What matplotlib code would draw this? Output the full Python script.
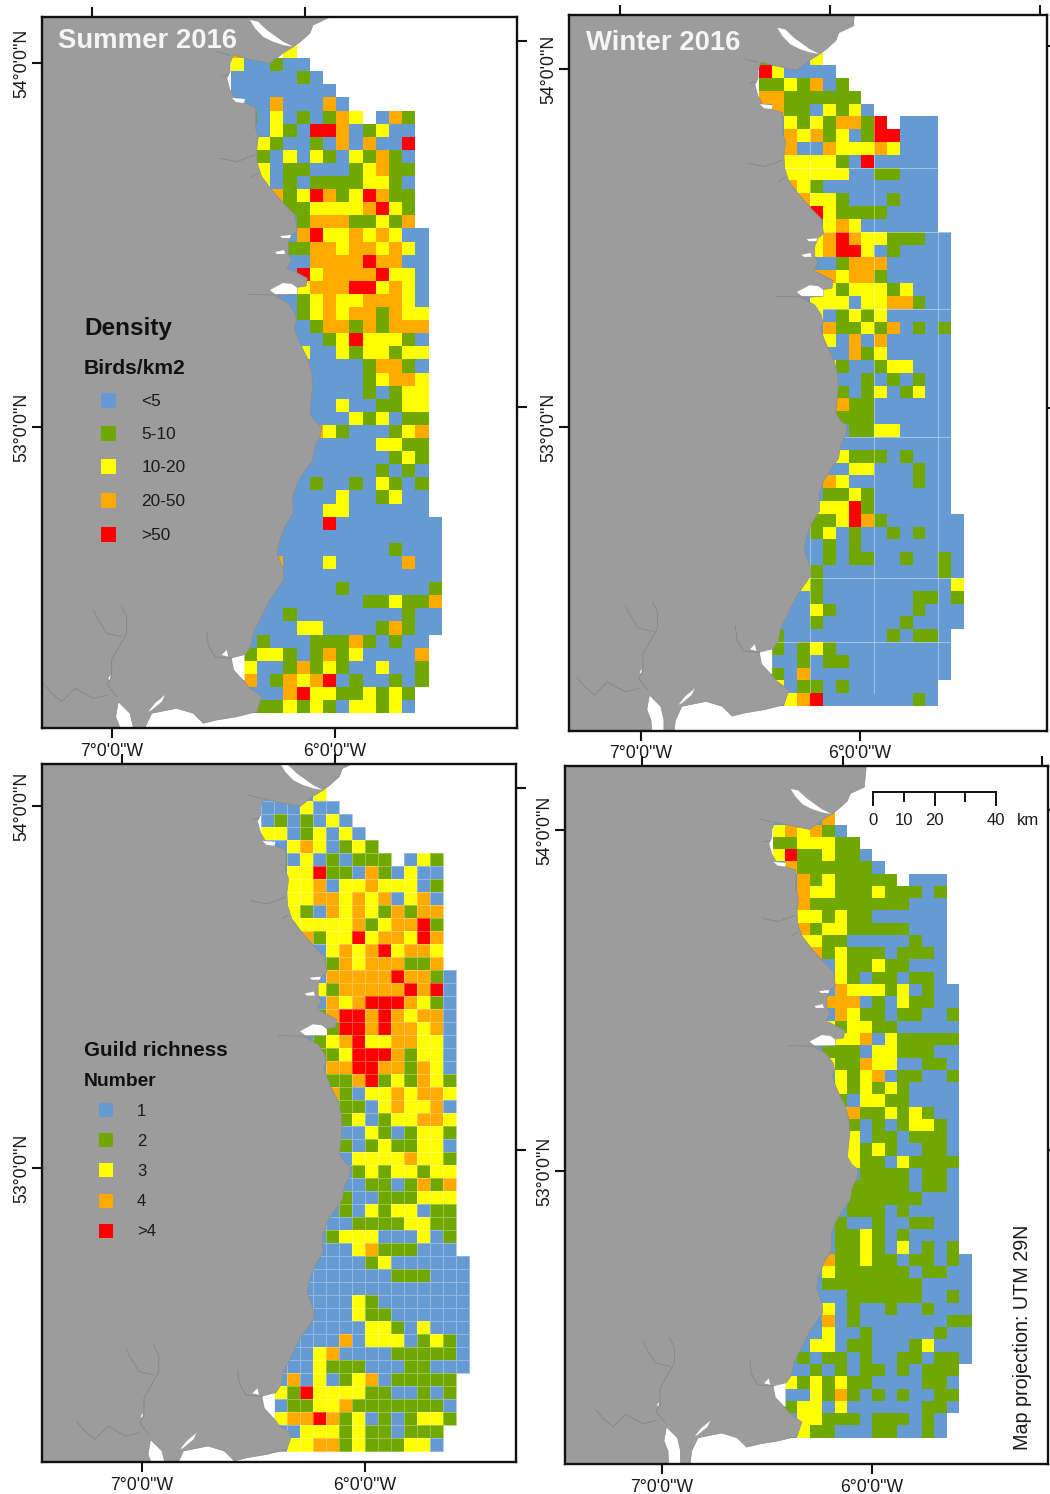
import numpy as np
import matplotlib
matplotlib.use("Agg")
import matplotlib.pyplot as plt
from matplotlib.colors import ListedColormap
from matplotlib.patches import Rectangle
from matplotlib.lines import Line2D

plt.rcParams['font.family'] = ['Liberation Sans', 'DejaVu Sans']

W, H = 1050, 1494
CLASS_CODES = "bgyor"
CLASS_COLOURS = ['#659ad2', '#70a800', '#ffff00', '#ffaa00', '#ff0000']
LAND = '#9c9c9c'

# ---- grid cells: b,g,y,o,r = class 1..5; '.' = no survey cell (spaces only group columns)
summer_2016 = [
"o... y... .... ....", "ybbg bb.. .... ....", "bbbb bgb. .... ....", "bbbb bbbb .... ....",
"bbbo bbbo b... ....", ".gby bgbg oy.b og..", ".bby gbrr obgy bb..", "..yg bbgb obob br..",
"..gb ybyg bygo gb..", "..yb ggbb bgyo gg..", "..yb gbgg ggyy gb..", "...o gyro gyro gg..",
".... ggyy yyor yg..", ".... bgoo oggy go..", ".... bory yoyo ybb.", ".... ggoo yooy oyb.",
".... bboo ooro obb.", ".... .ryo ooor yyb.", ".... .yoo orry oyb.", ".... bgyo yyoo oyb.",
".... bgyo yoog oyy.", ".... bbgo ogog ooo.", ".... bbbg yryy ygb.", ".... .ybb ygyy gyy.",
".... .bbb bbgo ogb.", ".... .bbb bbgy ooy.", ".... .bbb bbgb gyy.", ".... .bbb ybbg gyy.",
".... .bbb bygy bgg.", ".... ..oy gbbb gyo.", ".... ..bb bbby ygg.", ".... ..bb bbbb gyg.",
".... .bbb bbbg bgb.", ".... .bgb bgby gbg.", ".... bbbb ybbg ybb.", ".... bbby ybbb bbb.",
".... bbbr bbbb bbbb", "...b bbbb bbbb bbbb", "...b bbbb bbbb gbbb", "...o bbby bbbb bobb",
"...b bbbb bbbb bbbb", "...b bbbb gbbb bbbg", "..bb bbbb bbgg yggo", "..bb gbbb bbbb bgbb",
".bbb byyb bbbg ogbb", ".bgb bbgg gogb gbb.", ".gyy gbgo gybb bbo.", ".ybb gogy gbby bbg.",
".obg oyor bgbb gbg.", "..bb oryy ggyg yg..", "..gg ygyg byyg yb..",
]
winter_2016 = [
"g..b y... .... ....", "rybb bb.. .... ....", "ggyg obg. .... ....", "oogg gggg .... ....",
".ogg bygy b... ....", "..yg ygoo gr.b bb..", "..oy ogyb grrb bb..", "..ob boyy yoyb bb..",
"..yy yygb rbbb bb..", "..yy yyyb bggb bb..", "..oy gbbb bbbb bb..", "...o yygb bbgb bb..",
"...b rygg ggbb bb..", ".... .yoy bbbb bb..", ".... yoro yygg gbb.", ".... yorr ybgb bbb.",
".... bbgo oobb bbb.", ".... ooyo ogbb bbb.", ".... .ygy yygy bbb.", "...b yyyb yyoo gbb.",
"...r ybgy gybb bbb.", ".... .ogg ygob gbg.", ".... .ybo bobb bbb.", ".... .bbo gybb bbb.",
".... .ygb bgyy bbb.", ".... ..bb gbgb gbb.", ".... ..gb gybg ybb.", ".... ..og gbbb bbb.",
".... ..gg gbbb bbb.", ".... ..bg gyyb bbb.", ".... ..bb bbbb bbb.", ".... ..yg ggbg bbb.",
".... ..by ybbb gbb.", ".... .oyb bbbb gbb.", ".... .ggy gbbb bbb.", ".... yyyr gbbb bbb.",
".... ggyr ogbb bbbb", ".... gybg bbgb gbbb", ".... bgbg bbbb bbbb", ".... bgbg gbbg bbgb",
".... gbbb bbbb bbgb", "...y gbbb bbbb bbby", "...b gbbb bbbb ggbg", "...b ygbb bbbb gbbb",
"..bb gbbb bbbg bbbb", ".gbb bbbb bbgb ggb.", ".gbg ygbb bbbb bbb.", ".bbg bggb bbbb bbb.",
".gbo bbbb bbbb bbb.", ".ybg gbgb bbbb bb..", "..yo rbbb bbbb gb..",
]
guild_summer = [
"...b y... .... ....", "bbby bb.. .... ....", "bgbg byb. .... ....", "yybg ybyb .... ....",
".byo ybgy g... ....", ".gby bgbg gg.b yg..", "..yy rggb ogby bb..", "..yy obyy oyyy bg..",
"..yy ooyo yoby ob..", "..yg boyo ygog oo..", "..yy yyyo gyoo rg..", "...o gyyr yooy ro..",
"...b byoy oryo oy..", ".... bgoy ooog go..", ".... booo ooro ogb.", ".... ygoo ooor orb.",
".... boyo rrro ygb.", ".... gorr oroy oob.", ".... .grr oroo yob.", "...b gyor yyoo yyb.",
".... ggyr rrog yyb.", ".... .oor roog oyb.", ".... .ggo rgyg oyg.", ".... .ogb yyoy ooy.",
".... .bgg byoy yob.", ".... ..gy bgyy ooy.", ".... ..bb ygbg yyg.", ".... ..gb gygg yyb.",
".... ..by yyyo yyg.", ".... ...g ygyy gyy.", ".... ..bb ggbg ogo.", ".... ..gb bggg yyy.",
".... ..gb ygyy bgg.", ".... .bbg gggy ygg.", ".... .gyy ybbb ybg.", ".... .bby oggg bbb.",
".... bbbb gybb bbbb", "...b bbbb bbgg gbbb", "...b bbbb bbbb bbbb", "...b bbby gbbb bbbb",
"...b bbby ggbb bbbb", "...b bbbb yygb ybbb", "...b bbob yyyb gygb", "..bb yobb bbgg gggb",
"..bb yggg bbbg gbbb", ".bob ybgy obgg ggg.", ".ygr yyyy ggbb gbg.", ".bgg yyog gggg ggb.",
".yoo rogy bgbg yyg.", ".bby yygy ggbg gg..", "..yy oogy gggy yb..",
]
guild_winter = [
"...b o... .... ....", "yoyo gb.. .... ....", "ggyy ygg. .... ....", "yrgg yggb .... ....",
".ogg gggg b... ....", "..og yggg gg.b bb..", "..oy yggg yggg bg..", "..og gggg gggb bb..",
"..yy gygg bbbb bb..", "..og yygg gggb bb..", "..yy ggbb bbbg bb..", "...o gygg gbgg gb..",
".... bygg yggb bb..", ".... .ygb ggbg gb..", ".... boyy ygyb gbb.", ".... ooob gbyg gbb.",
".... boyg gbgg bbg.", ".... ygyy ggbb bbb.", ".... .yyo bygg ggg.", "...b gggb yygg gbb.",
".... yggo yybb ggb.", ".... .ygy obgg bbg.", ".... .ygy gygb bbb.", ".... .gby yggb bbb.",
".... .yog gygy gbb.", ".... ..gb gbgy ygb.", ".... ..yb ggbg ggb.", ".... ..yg ygbb ggb.",
".... ..yg gbyg ggg.", ".... ...g gggb ggb.", ".... ..gg gggb ggb.", ".... ..gg gggg bbb.",
".... ..gg gbgb bbb.", ".... .gbb gbbg gbb.", ".... .ggy gbgb bbb.", ".... .ggy gbyb gbg.",
".... oggy ggbg gbgb", ".... yggg gggb ggbb", ".... gggg gggg bbbb", ".... bbgg gggg bbgb",
".... ybgb bgbb gbbb", "...b obgb bbbb bbgg", "...b ybbg bbbb bgbb", "..by ybgg bbbg ybbb",
"..gb ggbg bbgg bggb", ".bbg bgbg gbgb ggg.", ".ygy gygg bbbb ggb.", ".bby gogb gbgb bgg.",
".gyy bybb bbbb ggb.", "..yy gggb gggb gb..", "..yg gbbb ggbb gb..",
]

# ---- geography, in shared map units
coast = [(-60,-40),(350,-40),(330,-4),(328,18),(313,25),(310,33),(300,42),(293,47),(283.3,53),(270,63.3),
 (245,58.3),(233.3,55),(230,63.3),(230,71.7),(226.7,78.3),(230,90),(235,98.3),(245,103.3),(255,106.7),
 (256,118.3),(255,126.7),(258.3,136.7),(256.7,150),(257.3,163.3),(261.7,176.7),(271.7,190),(285,205),
 (295,215),(297.3,230),(291.7,235),(288.3,243.3),(288.3,253.3),(291.7,260),(286.7,268.3),(291.7,270),
 (307.3,278.3),(306,286),(297.3,287.3),(297.3,294),(275,296),(288.3,303.3),(295,313.3),(296.7,321.7),
 (294,326.7),(297.3,336.7),(301.7,346.7),(308.3,360),(311.7,373.3),(312.7,386.7),(310,413.3),(315,421.7),
 (321.7,426.7),(320,436.7),(315,446.7),(312.7,460),(303.3,473.3),(297.3,483.3),(292.7,496.7),(293.3,513.3),
 (285,526.7),(280,540),(277.3,553.3),(283.3,570),(284,580),(270,600),(260,620),(253.3,633.3),(250.7,646.7),
 (245,655),(231.7,658.3),(234,670),(243.3,680),(248.3,686.7),(261.7,696.7),(256.7,711.7),(236.7,716.7),
 (216.7,720),(203.3,723.3),(193.3,713.3),(176.7,708.3),(151.7,713.3),(145,727.7),(140,770),(133,770),
 (133.3,727),(130,713.3),(118.3,701.7),(115.7,716.7),(120,727.7),(122,770),(-60,770)]
inlets = [
 [(250,20),(258,21.7),(266.7,30),(283,41.7),(293,46.7),(283,45),(273,41.7),(263,36.7),(255,28.3)],
 [(270,290),(283,283),(292,284),(297.3,288),(297.3,294),(275,294)],
 [(232,98),(245,99),(244,103),(236,102)],
 [(148.3,711.7),(155,703.3),(165,695),(161.7,701.7),(151.7,710)],
 [(221.7,655),(226.7,650),(228.3,656.7)],
 [(108.3,678.3),(110.7,675),(110,680.7)],
 [(275,252),(284,250),(285,254),(277,254)],
 [(280,236),(291,235),(290,238),(282,238)],
 [(244.5,655),(231.7,658.3),(234,670),(243.3,680),(244.5,680)],
]
rivers = [
 [(121.7,606.7),(126.7,616.7),(126.7,633.3),(118.3,648.3),(111.7,660),(111.7,676.7),(107.3,685),(116.7,696.7)],
 [(93.3,610),(98.3,620),(106.7,633.3),(121.7,636.7)],
 [(43.3,683.3),(51.7,693.3),(61.7,701.7),(75,688.3),(93.3,698.3),(107.3,695)],
 [(206.7,631.7),(208.3,645),(215,656.7),(231.7,658.3)],
 [(220,158.3),(236.7,161.7),(255,155)],
 [(251.7,176.7),(258,173)],
 [(248.3,294.3),(275,295)],
 [(216.7,51.7),(230,55.3)],
 [(221.7,76.7),(228,75)],
]

PANELS = [
 dict(rows=summer_2016, box=(42,517,17,727.7), o=(230.7,45), p=(13.19,13.1),
      bottom=[112,335], top=[92,305], left=[63,427], right=[41,407], lines=None),
 dict(rows=winter_2016, box=(569,1047,15,730.5), o=(758.7,52.3), p=(12.83,12.82),
      bottom=[641,860], top=[620,830,1040], left=[69,427], right=[46,408], lines='coarse'),
 dict(rows=guild_summer, box=(42,516,764,1462), o=(261.3,788.3), p=(13.0,12.99),
      bottom=[142,365], top=[122,335], left=[806,1168], right=[788,1150], lines='fine'),
 dict(rows=guild_winter, box=(565,1048,766,1464), o=(772.5,812.3), p=(12.45,12.26),
      bottom=[662,872], top=[642,843,1042], left=[830,1171], right=[810,1150], lines=None),
]
LON_LABELS = ['7°0\'0"W', '6°0\'0"W']
LAT_LABELS = ['54°0\'0"N', '53°0\'0"N']
MX0, MY0, MPX, MPY = 230.7, 45.0, 13.19, 13.1

fig = plt.figure(figsize=(W/100, H/100), dpi=100, facecolor='white')
cmap = ListedColormap(CLASS_COLOURS)

def fx(x): return x/W
def fy(y): return 1-y/H

def decode(rows):
    out = []
    for r in rows:
        codes = [CLASS_CODES.find(ch) for ch in r.replace(' ', '')]
        # the low-density class runs on to the shore, under the land polygon
        first = next(i for i, v in enumerate(codes) if v >= 0)
        codes[:first] = [0]*first
        out.append(codes)
    return np.ma.masked_less(np.array(out), 0)

for P in PANELS:
    L, R, T_, B = P['box']
    ax = fig.add_axes([fx(L), fy(B), (R-L)/W, (B-T_)/H])
    def to_mx(px, P=P): return MX0 + (np.asarray(px, float)-P['o'][0])/P['p'][0]*MPX
    def to_my(py, P=P): return MY0 + (np.asarray(py, float)-P['o'][1])/P['p'][1]*MPY
    ax.set_xlim(to_mx(L), to_mx(R))
    ax.set_ylim(to_my(B), to_my(T_))
    grid = decode(P['rows'])
    xe = MX0 + np.arange(grid.shape[1]+1)*MPX
    ye = MY0 + np.arange(grid.shape[0]+1)*MPY
    if P['lines'] == 'fine':
        ax.pcolormesh(xe, ye, grid, cmap=cmap, vmin=0, vmax=4, zorder=1,
                      edgecolors=(1,1,1,0.3), linewidth=0.4)
    else:
        ax.pcolormesh(xe, ye, grid, cmap=cmap, vmin=0, vmax=4, zorder=1, linewidth=0, antialiased=False)
    if P['lines'] == 'coarse':
        for c in (4, 9, 14):
            ax.plot([xe[c]]*2, [ye[5], ye[50]], color='white', alpha=0.45, lw=0.6, zorder=2)
        for r in (9, 14, 20, 30, 41, 46):
            first = np.flatnonzero(~grid.mask[r])
            ax.plot([xe[first[0]], xe[first[-1]+1]], [ye[r]]*2, color='white', alpha=0.5, lw=0.6, zorder=2)
    cx, cy = zip(*coast)
    ax.fill(cx, cy, facecolor=LAND, edgecolor='#8c8c8c', lw=0.5, zorder=3)
    for poly in inlets:
        ix, iy = zip(*poly)
        ax.fill(ix, iy, facecolor='white', edgecolor='none', zorder=4)
    for riv in rivers:
        rx, ry = zip(*riv)
        ax.plot(rx, ry, color='#858585', lw=0.6, zorder=5)

    for s in ax.spines.values():
        s.set_linewidth(1.7); s.set_color('#111111'); s.set_zorder(10)
    tk = dict(length=7.2, width=1.5, color='#111111')
    ax.set_xticks(to_mx(P['bottom'])); ax.set_xticklabels(LON_LABELS, fontsize=12.7, color='#1a1a1a')
    ax.set_yticks(to_my(P['left']))
    ax.set_yticklabels(LAT_LABELS, fontsize=12.7, rotation=90, va='center', color='#1a1a1a')
    ax.tick_params(axis='x', pad=3.6, **tk)
    ax.tick_params(axis='y', pad=1.5, **tk)
    st = ax.secondary_xaxis('top'); st.set_xticks(to_mx(P['top'])); st.set_xticklabels([])
    st.tick_params(**tk); st.spines['top'].set_visible(False)
    sr = ax.secondary_yaxis('right'); sr.set_yticks(to_my(P['right'])); sr.set_yticklabels([])
    sr.tick_params(**tk); sr.spines['right'].set_visible(False)

def T(x, y, s, **kw):
    kw.setdefault('va', 'center'); kw.setdefault('ha', 'left'); kw.setdefault('color', '#1a1a1a')
    fig.text(fx(x), fy(y), s, zorder=20, **kw)

T(58, 41.5, 'Summer 2016', fontsize=19.8, fontweight='bold', color='#f5f5f5')
T(586, 42.5, 'Winter 2016', fontsize=19.8, fontweight='bold', color='#f5f5f5')

def legend(x_patch, x_text, size, ys, labels, fs):
    for y, col, lab in zip(ys, CLASS_COLOURS, labels):
        fig.add_artist(Rectangle((fx(x_patch), fy(y+size/2)), size/W, size/H, transform=fig.transFigure,
                                 facecolor=col, edgecolor='none', zorder=20))
        T(x_text, y+1, lab, fontsize=fs)

T(84, 328.5, 'Density', fontsize=17.5, fontweight='bold', color='#111111')
T(84, 368.5, 'Birds/km2', fontsize=15.2, fontweight='bold', color='#111111')
legend(100.7, 141.5, 15, [400, 433.5, 467, 500.5, 534], ['<5', '5-10', '10-20', '20-50', '>50'], 12.4)
T(84, 1051, 'Guild richness', fontsize=14.9, fontweight='bold', color='#111111')
T(84, 1081.5, 'Number', fontsize=13.9, fontweight='bold', color='#111111')
legend(99, 137, 14, [1110, 1140, 1170, 1201, 1231], ['1', '2', '3', '4', '>4'], 12)

# scale bar
SCALE_KM = [0, 10, 20, 30, 40]
SCALE_LABELS = {0: '0', 10: '10', 20: '20', 40: '40'}
bar_x0, bar_px_per_km, bar_y = 873.3, 3.07, 792.3
fig.add_artist(Line2D([fx(bar_x0), fx(bar_x0+40*bar_px_per_km)], [fy(bar_y)]*2, color='#111111', lw=1.4, zorder=20))
for km in SCALE_KM:
    xk = bar_x0+km*bar_px_per_km
    ln = 13 if km % 20 == 0 else 9
    fig.add_artist(Line2D([fx(xk)]*2, [fy(bar_y), fy(bar_y+ln)], color='#111111', lw=1.4, zorder=20))
    if km in SCALE_LABELS:
        T(xk, 820, SCALE_LABELS[km], fontsize=12, ha='center')
T(1028, 820, 'km', fontsize=12, ha='center')
T(1023, 1337, 'Map projection: UTM 29N', fontsize=14.2, rotation=90, ha='center')

fig.savefig('out.png', dpi=100)
